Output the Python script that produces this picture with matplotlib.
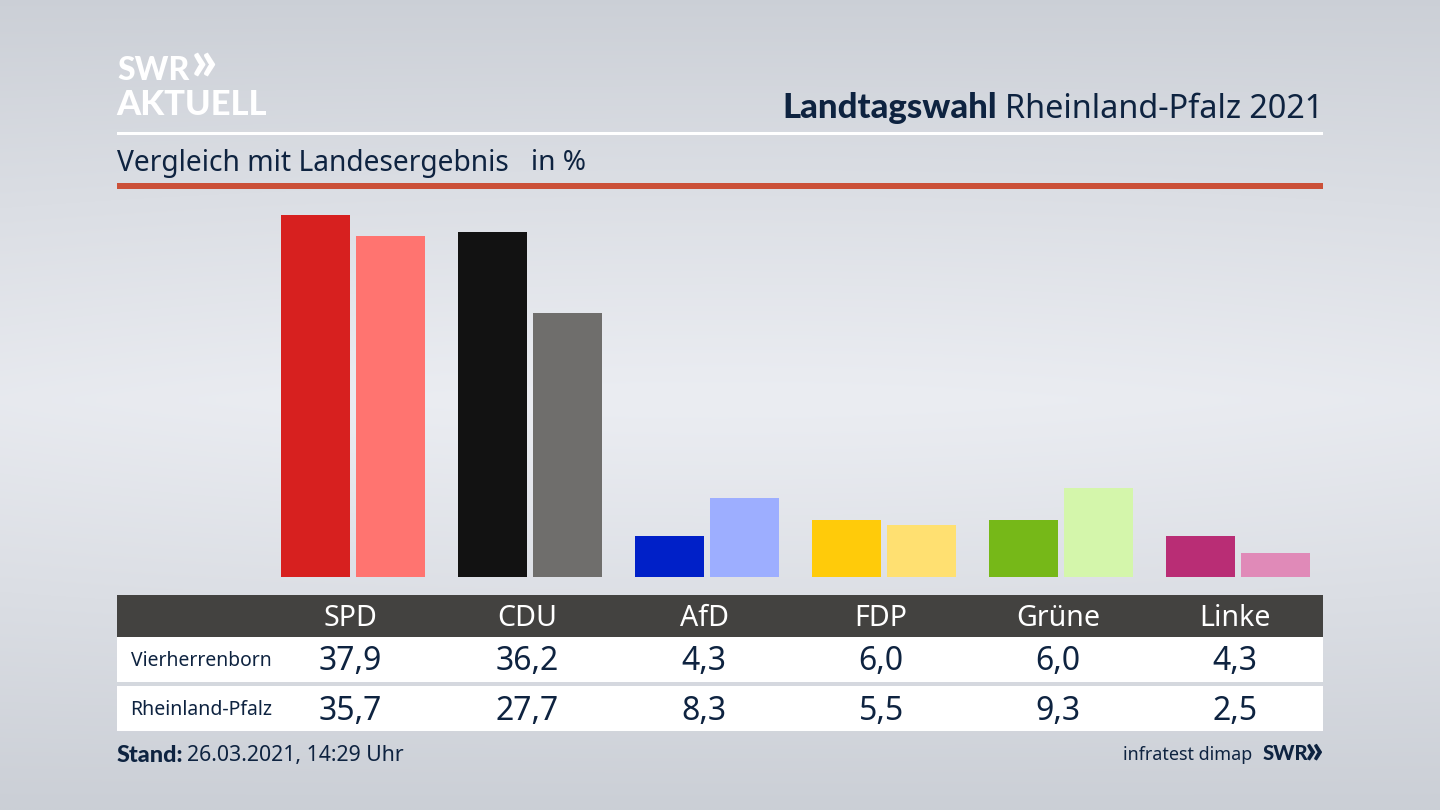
import numpy as np
import matplotlib
matplotlib.use("Agg")
import matplotlib.pyplot as plt
from matplotlib.patches import Rectangle

parties = ["SPD", "CDU", "AfD", "FDP", "Grüne", "Linke"]
local_name = "Vierherrenborn"
state_name = "Rheinland-Pfalz"
local_values = [37.9, 36.2, 4.3, 6.0, 6.0, 4.3]
state_values = [35.7, 27.7, 8.3, 5.5, 9.3, 2.5]
local_colors = ["#d7201f", "#121212", "#0020c8", "#ffcb0a", "#76b818", "#b92d75"]
state_colors = ["#ff7470", "#6f6e6c", "#9daeff", "#ffe071", "#d4f6ab", "#e08ab8"]

NAVY = "#0e2340"
BOLD = ["Lato", "DejaVu Sans"]
plt.rcParams["font.family"] = ["Noto Sans", "DejaVu Sans"]
W, H = 1440, 810
fig = plt.figure(figsize=(W / 100, H / 100), dpi=100)

page = fig.add_axes([0, 0, 1, 1], zorder=0)
page.set_xlim(0, W)
page.set_ylim(H, 0)
page.axis("off")

yy, xx = np.mgrid[0:H:162j, 0:W:288j]
dy = np.abs(yy - 400) / 410
dx = np.abs(xx - 720) / 720
shade = np.clip(dy ** 1.1 + 0.12 * dx ** 2 * (1 - dy), 0, 1)
top = np.array([0xeb, 0xed, 0xf2]) / 255
edge = np.array([0xcb, 0xcf, 0xd6]) / 255
grad = top[None, None, :] * (1 - shade[..., None]) + edge[None, None, :] * shade[..., None]
page.imshow(grad, extent=(0, W, H, 0), aspect="auto", interpolation="bilinear", zorder=0)

page.add_patch(Rectangle((117, 132), 1206, 3, fc="white", ec="none", zorder=1))
page.add_patch(Rectangle((117, 183), 1206, 6, fc="#cb5038", ec="none", zorder=1))
page.add_patch(Rectangle((117, 595), 1206, 42, fc="#434240", ec="none", zorder=1))
page.add_patch(Rectangle((117, 637), 1206, 45, fc="white", ec="none", zorder=1))
page.add_patch(Rectangle((117, 686), 1206, 45, fc="white", ec="none", zorder=1))

page.text(117, 70, "SWR", color="white", fontsize=23, family=BOLD, fontweight="black", va="center", ha="left", zorder=3)
page.text(191, 63, "»", color="white", fontsize=41, family=BOLD, fontweight="black", va="center", ha="left", zorder=3)
page.text(116, 105, "AKTUELL", color="white", fontsize=24.8, family=BOLD, fontweight="black", va="center", ha="left", zorder=3)

renderer = fig.canvas.get_renderer()
t2 = page.text(1323, 109, "Rheinland-Pfalz 2021", color=NAVY, fontsize=23.3, va="center", ha="right", zorder=3)
x2 = t2.get_window_extent(renderer).x0
page.text(x2 - 8, 108, "Landtagswahl", color=NAVY, fontsize=25, family=BOLD, fontweight="black", va="center", ha="right", zorder=3)

page.text(117, 163, "Vergleich mit Landesergebnis", color=NAVY, fontsize=20.3, va="center", ha="left", zorder=3)
page.text(531, 163, "in %", color=NAVY, fontsize=20.2, va="center", ha="left", zorder=3)

bar_left, bar_right, bar_base, bar_top = 117, 1323, 577, 195
ax = fig.add_axes([bar_left / W, 1 - bar_base / H, (bar_right - bar_left) / W, (bar_base - bar_top) / H], zorder=2)
ax.patch.set_alpha(0)
ax.axis("off")
ax.set_xlim((bar_left - 353) / 176.9, (bar_right - 353) / 176.9)
ax.set_ylim(0, (bar_base - bar_top) / 9.54)
pos = np.arange(len(parties))
bw = 69 / 176.9
off = 37.5 / 176.9
ax.bar(pos - off, local_values, bw, color=local_colors)
ax.bar(pos + off, state_values, bw, color=state_colors)

def dec(v):
    return f"{v:.1f}".replace(".", ",")

for i, p in enumerate(parties):
    cx = 350.5 + 176.9 * i
    page.text(cx, 618, p, color="white", fontsize=20.6, va="center", ha="center", zorder=3)
    page.text(cx, 662, dec(local_values[i]), color=NAVY, fontsize=23, va="center", ha="center", zorder=3)
    page.text(cx, 711, dec(state_values[i]), color=NAVY, fontsize=23, va="center", ha="center", zorder=3)
page.text(131, 661, local_name, color=NAVY, fontsize=13.9, va="center", ha="left", zorder=3)
page.text(130.5, 710, state_name, color=NAVY, fontsize=14, va="center", ha="left", zorder=3)

page.text(117, 755, "Stand:", color=NAVY, fontsize=16.8, family=BOLD, fontweight="black", va="center", ha="left", zorder=3)
page.text(187, 756, "26.03.2021, 14:29 Uhr", color=NAVY, fontsize=15.3, va="center", ha="left", zorder=3)
page.text(1252, 755, "infratest dimap", color=NAVY, fontsize=12.9, va="center", ha="right", zorder=3)
page.text(1263, 754, "SWR", color=NAVY, fontsize=14.6, family=BOLD, fontweight="black", va="center", ha="left", zorder=3)
page.text(1305, 751, "»", color=NAVY, fontsize=29, family=BOLD, fontweight="black", va="center", ha="left", zorder=3)

fig.savefig("out.png", dpi=100)
